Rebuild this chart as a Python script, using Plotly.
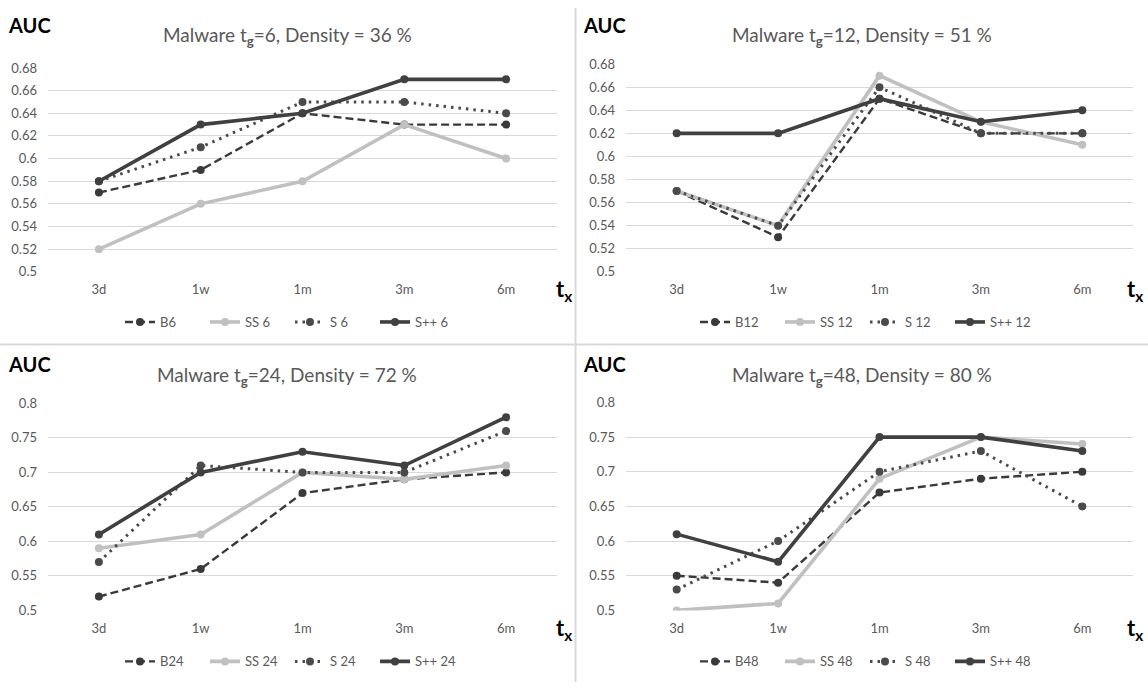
import plotly.graph_objects as go

categories = ["3d", "1w", "1m", "3m", "6m"]

# panel tg=6
b6 = [0.57, 0.59, 0.64, 0.63, 0.63]
ss6 = [0.52, 0.56, 0.58, 0.63, 0.60]
s6 = [0.58, 0.61, 0.65, 0.65, 0.64]
spp6 = [0.58, 0.63, 0.64, 0.67, 0.67]

# panel tg=12
b12 = [0.57, 0.53, 0.65, 0.62, 0.62]
ss12 = [0.57, 0.54, 0.67, 0.63, 0.61]
s12 = [0.57, 0.54, 0.66, 0.62, 0.62]
spp12 = [0.62, 0.62, 0.65, 0.63, 0.64]

# panel tg=24
b24 = [0.52, 0.56, 0.67, 0.69, 0.70]
ss24 = [0.59, 0.61, 0.70, 0.69, 0.71]
s24 = [0.57, 0.71, 0.70, 0.70, 0.76]
spp24 = [0.61, 0.70, 0.73, 0.71, 0.78]

# panel tg=48
b48 = [0.55, 0.54, 0.67, 0.69, 0.70]
ss48 = [0.50, 0.51, 0.69, 0.75, 0.74]
s48 = [0.53, 0.60, 0.70, 0.73, 0.65]
spp48 = [0.61, 0.57, 0.75, 0.75, 0.73]

tg_values = [6, 12, 24, 48]
densities = [36, 51, 72, 80]
series_prefix = ["B", "SS ", "S ", "S++ "]
panel_data = [
    [b6, ss6, s6, spp6],
    [b12, ss12, s12, spp12],
    [b24, ss24, s24, spp24],
    [b48, ss48, s48, spp48],
]
y_ranges = [[0.5, 0.68], [0.5, 0.68], [0.5, 0.8], [0.5, 0.8]]
y_dticks = [0.02, 0.02, 0.05, 0.05]

W, H = 1148, 689
FONT = "Lato"
GRAY = "#595959"

styles = [
    dict(color="#3a3a3a", width=2.4, dash="8px,4px", msize=8),
    dict(color="#c0c0c0", width=3.6, dash="solid", msize=8),
    dict(color="#4a4a4a", width=3.0, dash="2.5px,5px", msize=8),
    dict(color="#404040", width=3.6, dash="solid", msize=8),
]

# pixel geometry of each panel's plot area: (left, right, top, bottom)
areas = [
    (48, 557, 61, 270),
    (626, 1133, 57, 270),
    (48, 557, 404, 616),
    (626, 1133, 403, 616),
]
# chart-area offsets (x0, y0)
offsets = [(0, 0), (575, 0), (0, 347), (575, 347)]
tx_left = [554, 1125, 554, 1125]

fig = go.Figure()
annotations = []
layout_axes = {}

for i in range(4):
    ax = "" if i == 0 else str(i + 1)
    leg = "legend" if i == 0 else f"legend{i + 1}"
    for j in range(4):
        st = styles[j]
        fig.add_trace(go.Scatter(
            x=categories, y=panel_data[i][j],
            mode="lines+markers",
            name=f"{series_prefix[j]}{tg_values[i]}",
            line=dict(color=st["color"], width=st["width"], dash=st["dash"]),
            marker=dict(color=st["color"], size=st["msize"], symbol="circle"),
            xaxis="x" + ax, yaxis="y" + ax, legend=leg,
        ))
    l, r, t, b = areas[i]
    layout_axes["xaxis" + ax] = dict(
        domain=[l / W, r / W], anchor="y" + ax,
        range=[-0.5, 4.5], showgrid=False, zeroline=False, showline=False,
        tickfont=dict(family=FONT, size=13, color=GRAY),
        ticks="", ticklabelstandoff=8, fixedrange=True,
    )
    layout_axes["yaxis" + ax] = dict(
        domain=[1 - b / H, 1 - t / H], anchor="x" + ax,
        range=[y_ranges[i][0] - 0.0003, y_ranges[i][1] + 0.0003],
        dtick=y_dticks[i], tick0=0.5,
        showgrid=True, gridcolor="#d9d9d9", gridwidth=1,
        zeroline=False, showline=False,
        tickfont=dict(family=FONT, size=13, color=GRAY),
        ticks="", ticklabelstandoff=10, fixedrange=True,
    )
    ox, oy = offsets[i]
    # title
    annotations.append(dict(
        text=f"Malware t<sub><b>g</b></sub>={tg_values[i]}, Density = {densities[i]} %",
        x=(ox + 287) / W, y=1 - (oy + 29) / H, xref="paper", yref="paper",
        xanchor="center", yanchor="middle", showarrow=False,
        font=dict(family=FONT, size=19, color=GRAY),
    ))
    # AUC label
    annotations.append(dict(
        text="<b>AUC</b>", x=(ox + 6) / W, y=1 - (oy + 17) / H,
        xref="paper", yref="paper", xanchor="left", yanchor="middle",
        showarrow=False, font=dict(family=FONT, size=20, color="black"),
    ))
    # t_x label
    annotations.append(dict(
        text="<b>t<sub>x</sub></b>", x=tx_left[i] / W, y=1 - (oy + 288) / H,
        xref="paper", yref="paper", xanchor="left", yanchor="middle",
        showarrow=False, font=dict(family=FONT, size=22, color="black"),
    ))
    # legend
    layout_axes[leg] = dict(
        orientation="h", x=(ox + 290) / W, y=1 - (oy + 321) / H,
        xanchor="center", yanchor="middle",
        entrywidth=40, entrywidthmode="pixels",
        font=dict(family=FONT, size=13, color=GRAY),
        bgcolor="rgba(0,0,0,0)", itemclick=False, itemdoubleclick=False,
    )

shapes = [
    dict(type="line", xref="paper", yref="paper", x0=575.5 / W, x1=575.5 / W,
         y0=0, y1=1, line=dict(color="#d9d9d9", width=2)),
    dict(type="line", xref="paper", yref="paper", x0=0, x1=1,
         y0=1 - 344 / H, y1=1 - 344 / H, line=dict(color="#d9d9d9", width=2)),
]

fig.update_layout(
    width=W, height=H, margin=dict(l=0, r=0, t=0, b=0),
    paper_bgcolor="white", plot_bgcolor="white",
    showlegend=True, annotations=annotations, shapes=shapes,
    **layout_axes,
)

fig.write_html(
    "out.html",
    config={"displayModeBar": False},
    post_script="document.body.style.margin='0';document.body.style.overflow='hidden';",
)
